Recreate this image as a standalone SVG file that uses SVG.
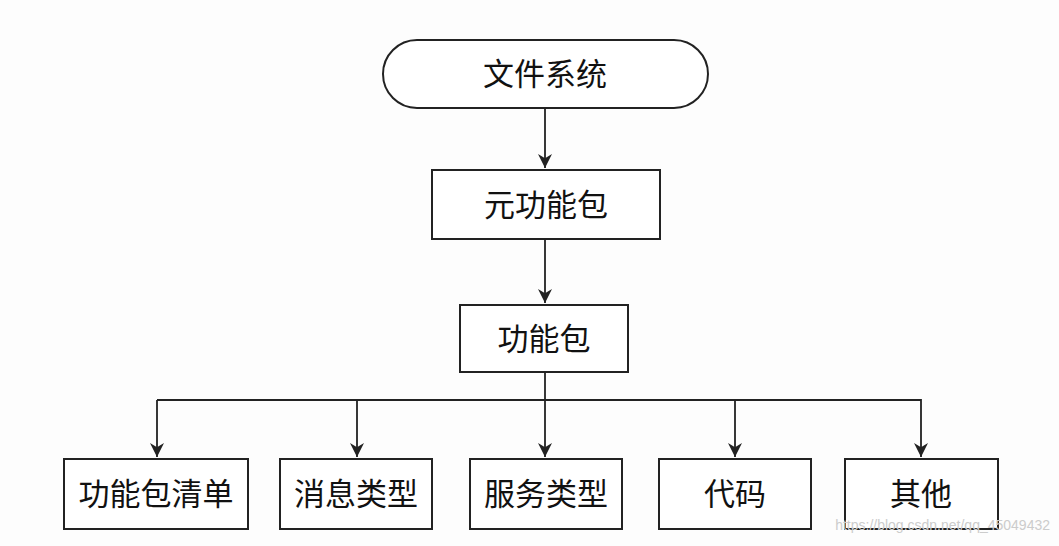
<svg xmlns="http://www.w3.org/2000/svg" width="1059" height="546" viewBox="0 0 1059 546">
<style>
.b{fill:#fff;stroke:#222;stroke-width:2}
.t{font-family:"Noto Sans CJK SC",sans-serif;font-size:31px;fill:#111;text-anchor:middle;dominant-baseline:central}
.c{stroke:#222;stroke-width:1.8;fill:none}
</style>
<defs><marker id="a" viewBox="0 0 10 10" refX="10" refY="5" markerWidth="14" markerHeight="14" markerUnits="userSpaceOnUse" orient="auto"><path d="M0,0L10,5L0,10L3,5z" fill="#222"/></marker></defs>
<rect width="1059" height="546" fill="#fdfdfd"/>
<g id="n1"><rect class="b" x="383" y="40" width="325" height="68" rx="34"/><text class="t" x="545" y="71">文件系统</text></g>
<g id="n2"><rect class="b" x="432" y="170" width="228" height="69"/><text class="t" x="546" y="202">元功能包</text></g>
<g id="n3"><rect class="b" x="460" y="305" width="168" height="67"/><text class="t" x="544" y="336">功能包</text></g>
<g id="n4"><rect class="b" x="64" y="459" width="184" height="70"/><text class="t" x="156" y="491">功能包清单</text></g>
<g id="n5"><rect class="b" x="280" y="459" width="152" height="70"/><text class="t" x="356" y="491">消息类型</text></g>
<g id="n6"><rect class="b" x="470" y="459" width="152" height="70"/><text class="t" x="546" y="491">服务类型</text></g>
<g id="n7"><rect class="b" x="659" y="459" width="152" height="70"/><text class="t" x="735" y="491">代码</text></g>
<g id="n8"><rect class="b" x="845" y="459" width="153" height="70"/><text class="t" x="921" y="491">其他</text></g>
<g id="connectors">
<path class="c" d="M545,108V168" marker-end="url(#a)"/>
<path class="c" d="M545,239V303" marker-end="url(#a)"/>
<path class="c" d="M545,372V457" marker-end="url(#a)"/>
<path class="c" d="M157,400H921V457" marker-end="url(#a)"/>
<path class="c" d="M157,400V457" marker-end="url(#a)"/>
<path class="c" d="M357,400V457" marker-end="url(#a)"/>
<path class="c" d="M735,400V457" marker-end="url(#a)"/>
</g>
<text x="1050" y="530" font-family="Liberation Sans,sans-serif" font-size="14" fill="#ccc" text-anchor="end">https://blog.csdn.net/qq_45049432</text>
</svg>
